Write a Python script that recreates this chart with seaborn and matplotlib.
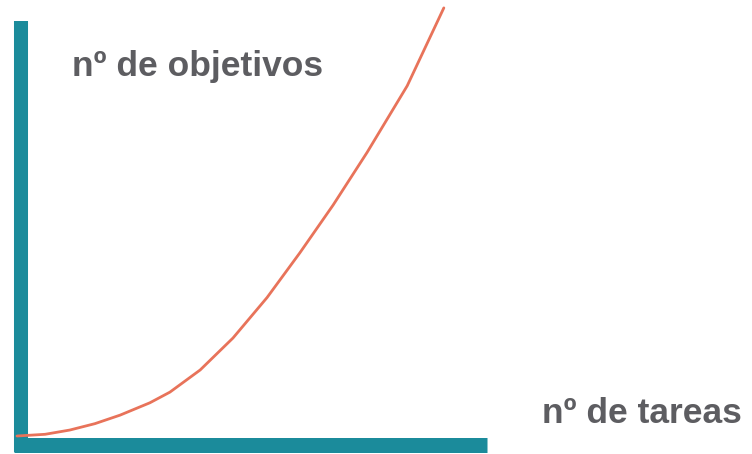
import pandas as pd
import seaborn as sns
import matplotlib.pyplot as plt

# curve (tareas -> objetivos, arbitrary units)
tareas = [0.0, 0.66, 1.24, 1.83, 2.42, 3.12, 3.59, 4.30, 5.07, 5.87,
          6.64, 7.42, 8.22, 9.16, 10.02]
objetivos = [0.0, 0.04, 0.14, 0.29, 0.49, 0.78, 1.03, 1.55, 2.30, 3.25,
             4.30, 5.42, 6.66, 8.22, 10.05]

label_y = "nº de objetivos"
label_x = "nº de tareas"

teal = "#1b8b9b"
curve_color = "#e8735a"
text_color = "#5d5d61"

sns.set_style("white")
plt.rcParams['font.family'] = ['Liberation Sans', 'DejaVu Sans']

df = pd.DataFrame({"tareas": tareas, "objetivos": objetivos})

fig = plt.figure(figsize=(7.52, 4.54), dpi=100)
ax = fig.add_axes([0, 0, 1, 1])

sns.lineplot(data=df, x="tareas", y="objetivos", color=curve_color,
             linewidth=2.0, ax=ax, zorder=5)

ax.set_xlim(-0.399, 17.254)
ax.set_ylim(-0.4225, 10.235)

# thick teal axes
for side in ["top", "right"]:
    ax.spines[side].set_visible(False)
ax.spines["left"].set_position(("data", 0.094))
ax.spines["left"].set_bounds(-0.376, 9.74)
ax.spines["left"].set_linewidth(10.1)
ax.spines["left"].set_color(teal)
ax.spines["left"].set_capstyle("butt")
ax.spines["bottom"].set_position(("data", -0.2))
ax.spines["bottom"].set_bounds(-0.07, 11.03)
ax.spines["bottom"].set_linewidth(10.8)
ax.spines["bottom"].set_color(teal)
ax.spines["bottom"].set_capstyle("butt")

ax.set_xticks([])
ax.set_yticks([])
ax.set_xlabel("")
ax.set_ylabel("")

ax.text(1.29, 8.45, label_y, fontsize=25.5, fontweight="bold",
        color=text_color, ha="left", va="baseline")
ax.text(12.32, 0.305, label_x, fontsize=25.5, fontweight="bold",
        color=text_color, ha="left", va="baseline")

fig.savefig("out.png", dpi=100)
